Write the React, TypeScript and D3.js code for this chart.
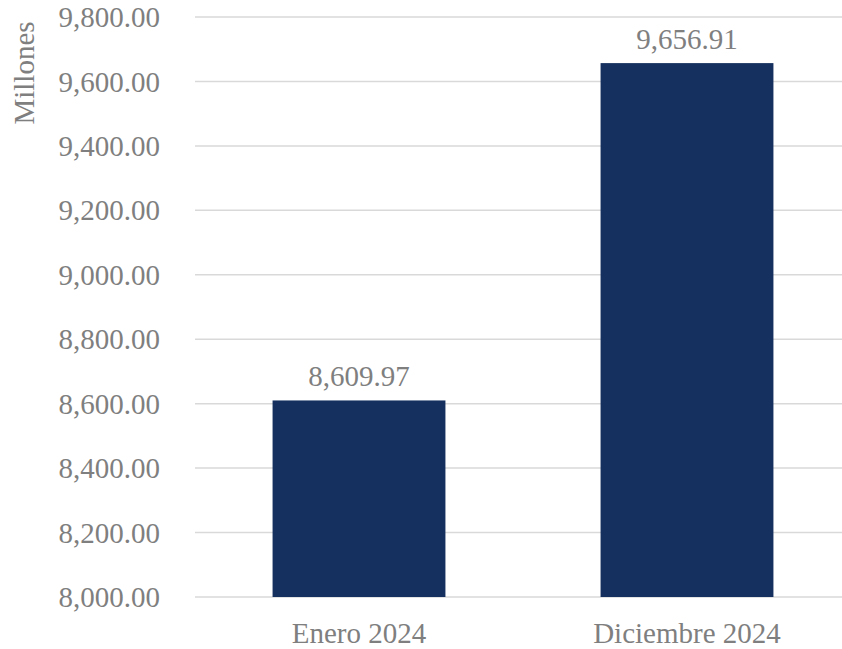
import React, { useRef, useEffect } from 'react';
import * as d3 from 'd3';

const categories = ['Enero 2024', 'Diciembre 2024'];
const values = [8609.97, 9656.91];
const yTicks = [8000, 8200, 8400, 8600, 8800, 9000, 9200, 9400, 9600, 9800];
const yLabel = 'Millones';

const width = 842;
const height = 649;
const font = 'Liberation Serif, Times New Roman, serif';
const textColor = '#7f7f7f';
const fontSize = 29;

const BarChart: React.FC = () => {
    const ref = useRef<SVGSVGElement>(null);

    useEffect(() => {
        if (!ref.current) return;
        const svg = d3.select(ref.current);
        svg.selectAll('*').remove();

        const left = 195;
        const top = 17;
        const bottom = 597;

        const x = d3.scaleBand<string>()
            .domain(categories)
            .range([left, left + 656])
            .paddingInner(0.473)
            .paddingOuter(0.2365);

        const y = d3.scaleLinear()
            .domain([8000, 9800])
            .range([bottom, top]);

        // gridlines
        svg.append('g')
            .selectAll('line')
            .data(yTicks)
            .enter()
            .append('line')
            .attr('x1', left)
            .attr('x2', width)
            .attr('y1', d => y(d))
            .attr('y2', d => y(d))
            .attr('stroke', '#d9d9d9')
            .attr('stroke-width', 1.5);

        // tick labels
        svg.append('g')
            .selectAll('text')
            .data(yTicks)
            .enter()
            .append('text')
            .attr('x', 160)
            .attr('y', d => y(d))
            .attr('dy', '0.35em')
            .attr('text-anchor', 'end')
            .style('font-family', font)
            .attr('font-size', fontSize)
            .attr('fill', textColor)
            .text(d => d3.format(',.2f')(d));

        // axis title
        svg.append('text')
            .attr('transform', `translate(34, 73) rotate(-90)`)
            .attr('text-anchor', 'middle')
            .style('font-family', font)
            .attr('font-size', fontSize)
            .attr('fill', textColor)
            .text(yLabel);

        // bars
        svg.append('g')
            .selectAll('rect')
            .data(values)
            .enter()
            .append('rect')
            .attr('x', (d, i) => x(categories[i])!)
            .attr('width', x.bandwidth())
            .attr('y', d => y(d))
            .attr('height', d => bottom - y(d))
            .attr('fill', '#15305f');

        // value labels
        svg.append('g')
            .selectAll('text')
            .data(values)
            .enter()
            .append('text')
            .attr('x', (d, i) => x(categories[i])! + x.bandwidth() / 2)
            .attr('y', d => y(d) - 14)
            .attr('text-anchor', 'middle')
            .style('font-family', font)
            .attr('font-size', fontSize)
            .attr('fill', textColor)
            .text(d => d3.format(',.2f')(d));

        // category labels
        svg.append('g')
            .selectAll('text')
            .data(categories)
            .enter()
            .append('text')
            .attr('x', d => x(d)! + x.bandwidth() / 2)
            .attr('y', 643)
            .attr('text-anchor', 'middle')
            .style('font-family', font)
            .attr('font-size', fontSize)
            .attr('fill', textColor)
            .text(d => d);
    }, []);

    return <svg ref={ref} width={width} height={height} style={{ position: 'absolute', left: 0, top: 0, background: '#fff' }}></svg>;
};

export default function App() {
    return <BarChart />;
}
